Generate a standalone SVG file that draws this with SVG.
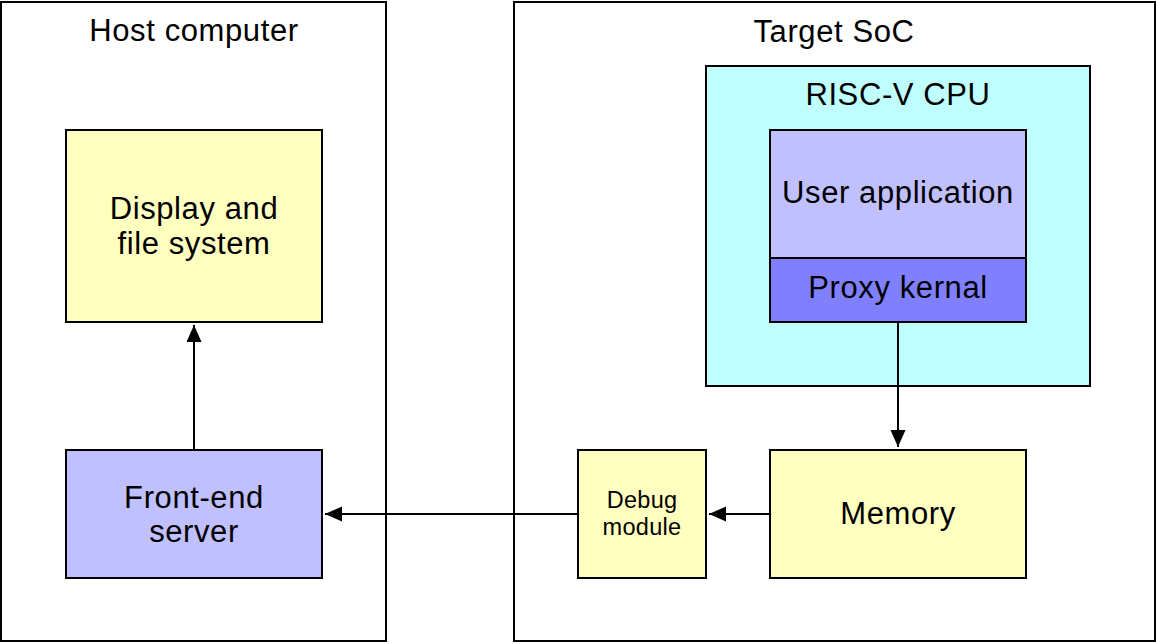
<svg xmlns="http://www.w3.org/2000/svg" width="1156" height="644" viewBox="0 0 1156 644">
<style>
.box{stroke:#000;stroke-width:2}
.t{font-family:"Liberation Sans",Arial,Helvetica,sans-serif;font-size:31px;fill:#000;text-anchor:middle;letter-spacing:0.6px}
.s{font-size:23.5px;letter-spacing:0.3px}
.c{stroke:#000;stroke-width:2;fill:none;marker-end:url(#ah)}
</style>
<defs>
<marker id="ah" markerUnits="userSpaceOnUse" markerWidth="18" markerHeight="16" refX="17" refY="7.5" orient="auto">
<path d="M0,0 L17,7.5 L0,15 z" fill="#000"/>
</marker>
</defs>
<rect width="1156" height="644" fill="#fff"/>
<g id="host">
<rect class="box" x="1" y="2" width="385" height="639" fill="#fff"/>
<text class="t" x="194" y="41">Host computer</text>
</g>
<g id="target">
<rect class="box" x="514" y="2" width="641" height="639" fill="#fff"/>
<text class="t" x="834" y="42">Target SoC</text>
</g>
<g id="display">
<rect class="box" x="66" y="130" width="256" height="192" fill="#ffffc0"/>
<text class="t" x="194" y="219">Display and</text>
<text class="t" x="194" y="254">file system</text>
</g>
<g id="frontend">
<rect class="box" x="66" y="450" width="256" height="128" fill="#c0c0ff"/>
<text class="t" x="194" y="508">Front-end</text>
<text class="t" x="194" y="542">server</text>
</g>
<g id="cpu">
<rect class="box" x="706" y="66" width="384" height="320" fill="#c0ffff"/>
<text class="t" x="898" y="105">RISC-V CPU</text>
</g>
<g id="userapp">
<rect class="box" x="770" y="130" width="256" height="128" fill="#c0c0ff"/>
<text class="t" x="898" y="203">User application</text>
</g>
<g id="proxy">
<rect class="box" x="770" y="258" width="256" height="64" fill="#8080ff"/>
<text class="t" x="898" y="298">Proxy kernal</text>
</g>
<g id="debug">
<rect class="box" x="578" y="450" width="128" height="128" fill="#ffffc0"/>
<text class="t s" x="642" y="508">Debug</text>
<text class="t s" x="642" y="535">module</text>
</g>
<g id="memory">
<rect class="box" x="770" y="450" width="256" height="128" fill="#ffffc0"/>
<text class="t" x="898" y="524">Memory</text>
</g>
<g id="connectors">
<line class="c" x1="898" y1="322" x2="898" y2="447"/>
<line class="c" x1="770" y1="514" x2="709" y2="514"/>
<line class="c" x1="578" y1="514" x2="325" y2="514"/>
<line class="c" x1="194" y1="450" x2="194" y2="325"/>
</g>
</svg>
